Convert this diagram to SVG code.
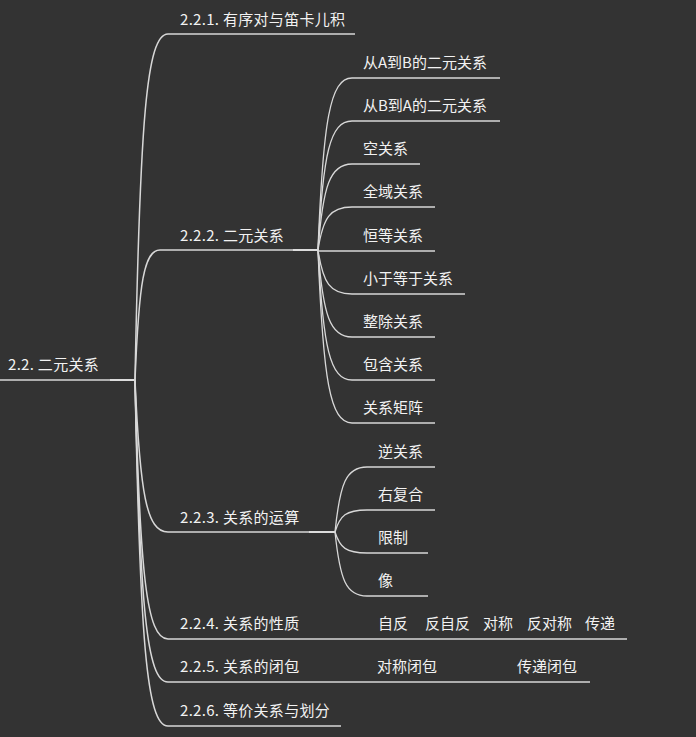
<svg xmlns="http://www.w3.org/2000/svg" width="696" height="737" viewBox="0 0 696 737">
<style>
text{font-family:"Noto Sans CJK SC","Noto Sans",sans-serif;font-size:15px;fill:#f2f2f2}
.n{letter-spacing:0.3px}
.c{fill:none;stroke:#d8d8d8;stroke-width:1.5}
.c2{fill:none;stroke:#d8d8d8;stroke-width:1.3}
.j{fill:none;stroke:#e0e0e0;stroke-width:1.9}
</style>
<rect width="696" height="737" fill="#333333"/>
<g id="connectors">
<path class="c" d="M0 380H135"/>
<path class="j" d="M110 380H135"/>
<path class="c" d="M135 380C140 120.5 146.5 34 168 34H355"/>
<path class="c" d="M135 380C139 282.5 144 250 160 250H318"/>
<path class="j" d="M293 250H318"/>
<path class="c" d="M135 380C140 494 146.5 532 168 532H335"/>
<path class="j" d="M309 532H335"/>
<path class="c" d="M135 380C140 574 146.5 639 168 639H627"/>
<path class="c" d="M135 380C140 606.5 146.5 682 168 682H590"/>
<path class="c" d="M135 380C140 639.5 146.5 726 168 726H341"/>
<path class="c2" d="M318 250C323 121 330 78 352 78H500"/>
<path class="c2" d="M318 250C323 153.25 330 121 352 121H500"/>
<path class="c2" d="M318 250C323 185.5 330 164 352 164H420"/>
<path class="c2" d="M318 250C323 217.75 330 207 352 207H435"/>
<path class="c2" d="M318 251H435"/>
<path class="c2" d="M318 250C323 283 330 294 352 294H465"/>
<path class="c2" d="M318 250C323 315.25 330 337 352 337H435"/>
<path class="c2" d="M318 250C323 347.5 330 380 352 380H435"/>
<path class="c2" d="M318 250C323 379.75 330 423 352 423H435"/>
<path class="c2" d="M335 532C340 483.25 346 467 367 467H435"/>
<path class="c2" d="M335 532C340 515.5 346 510 367 510H435"/>
<path class="c2" d="M335 532C340 547.75 346 553 367 553H428"/>
<path class="c2" d="M335 532C340 580 346 596 367 596H428"/>
</g>
<g id="root"><text class="n" x="8" y="370">2.2. 二元关系</text></g>
<g id="n221"><text class="n" x="180" y="25">2.2.1. 有序对与笛卡儿积</text></g>
<g id="n222"><text class="n" x="180" y="241">2.2.2. 二元关系</text></g>
<g id="n222a"><text x="363" y="68">从A到B的二元关系</text></g>
<g id="n222b"><text x="363" y="111">从B到A的二元关系</text></g>
<g id="n222c"><text x="363" y="154">空关系</text></g>
<g id="n222d"><text x="363" y="197">全域关系</text></g>
<g id="n222e"><text x="363" y="241">恒等关系</text></g>
<g id="n222f"><text x="363" y="284">小于等于关系</text></g>
<g id="n222g"><text x="363" y="327">整除关系</text></g>
<g id="n222h"><text x="363" y="370">包含关系</text></g>
<g id="n222i"><text x="363" y="413">关系矩阵</text></g>
<g id="n223"><text class="n" x="180" y="523">2.2.3. 关系的运算</text></g>
<g id="n223a"><text x="378" y="457">逆关系</text></g>
<g id="n223b"><text x="378" y="500">右复合</text></g>
<g id="n223c"><text x="378" y="543">限制</text></g>
<g id="n223d"><text x="378" y="586">像</text></g>
<g id="n224"><text class="n" x="180" y="629">2.2.4. 关系的性质</text></g>
<g id="n224a"><text x="378" y="629">自反</text></g>
<g id="n224b"><text x="425" y="629">反自反</text></g>
<g id="n224c"><text x="483" y="629">对称</text></g>
<g id="n224d"><text x="527" y="629">反对称</text></g>
<g id="n224e"><text x="585" y="629">传递</text></g>
<g id="n225"><text class="n" x="180" y="672">2.2.5. 关系的闭包</text></g>
<g id="n225a"><text x="377" y="672">对称闭包</text></g>
<g id="n225b"><text x="517" y="672">传递闭包</text></g>
<g id="n226"><text class="n" x="180" y="716">2.2.6. 等价关系与划分</text></g>
</svg>
